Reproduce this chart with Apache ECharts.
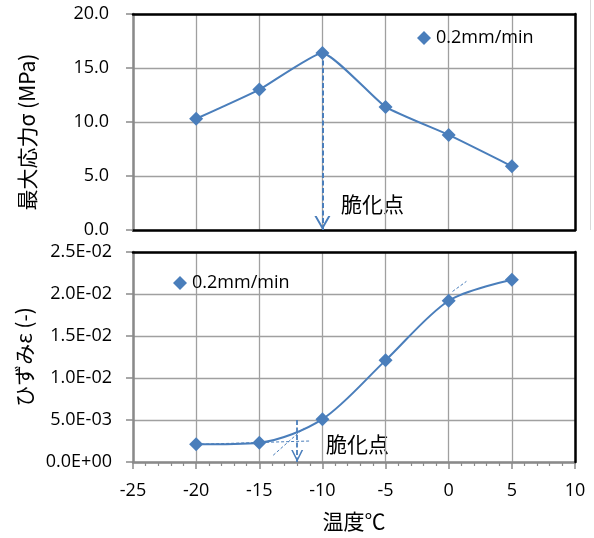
<!DOCTYPE html>
<html><head><meta charset="utf-8">
<script src="https://cdn.jsdelivr.net/npm/echarts@6/dist/echarts.min.js"></script>
<style>html,body{margin:0;padding:0;background:#fff}#c{width:594px;height:538px}</style>
</head><body><div id="c"></div>
<script>
// ---- data ----
const temperatures = [-20, -15, -10, -5, 0, 5];
const maxStress = [10.3, 13.0, 16.4, 11.4, 8.8, 5.9];
const strain = [0.0021, 0.0023, 0.0051, 0.0121, 0.0192, 0.0217];
const seriesName = '0.2mm/min';
const xRange = [-25, 10, 5];
const stressRange = [0, 20, 5];
const strainRange = [0, 0.025, 0.005];
const brittleLabel = '脆化点';
const xName = '温度℃';
const stressName = '最大応力σ (MPa)';
const strainName = 'ひずみε (-)';
// annotation lines (data coordinates)
const stressArrow = [[-10, 16.4], [-10, 0]];
const strainArrow = [[-12, 0.005], [-12, 0]];
const strainTangentLow = [[-20, 0.0021], [-11, 0.0025]];
const strainTangentSteep = [[-13.9, 0.0008], [-11.5, 0.0040]];
const strainTangentHigh = [[0.3, 0.0203], [1.4, 0.0215]];

const BLUE = '#4a7ebb';
const GRID = '#a0a0a0';
const AXIS = '#8a8a8a';
const NUMFONT = 'Open Sans';
const JPFONT = 'Noto Sans CJK JP';
const chevron = 'path://M0,100 L50,0 L100,100 L86,100 L50,28 L14,100 Z M50,-100 L50.1,-100 L50,-99.9 Z';

function expFmt(v) {
  if (Math.abs(v) < 1e-12) return '0.0E+00';
  let e = Math.floor(Math.log10(v) + 1e-9);
  let m = v / Math.pow(10, e);
  let s = e < 0 ? '-' : '+';
  let a = Math.abs(e);
  return m.toFixed(1) + 'E' + s + (a < 10 ? '0' : '') + a;
}
function seg(p, style, sym) {
  return {
    silent: true, animation: false, z: 15,
    symbol: sym ? ['none', chevron] : ['none', 'none'],
    symbolSize: sym ? [sym[0], sym[1]] : 0,
    label: { show: false },
    lineStyle: style,
    emphasis: { disabled: true },
    data: [[{ coord: p[0] }, { coord: p[1] }]]
  };
}
const pairs = (ys) => temperatures.map((t, i) => [t, ys[i]]);
function borderX(g, r) {
  return { gridIndex: g, type: 'value', position: 'top', min: r[0], max: r[1], interval: r[2], z: 10,
    axisLine: { show: true, onZero: false, lineStyle: { color: '#000', width: 2.5 } },
    axisTick: { show: false }, axisLabel: { show: false }, splitLine: { show: false } };
}
function borderY(g, r) {
  return { gridIndex: g, type: 'value', position: 'right', min: r[0], max: r[1], interval: r[2], z: 10,
    axisLine: { show: true, onZero: false, lineStyle: { color: '#000', width: 2.5 } },
    axisTick: { show: false }, axisLabel: { show: false }, splitLine: { show: false } };
}

const chart = echarts.init(document.getElementById('c'), null, { renderer: 'canvas' });
const labelStyle = { fontFamily: NUMFONT, fontSize: 18, color: '#000' };
chart.setOption({
  animation: false,
  backgroundColor: '#fff',
  grid: [
    { left: 133, top: 14, width: 442, height: 216 },
    { left: 133, top: 252, width: 442, height: 210 }
  ],
  legend: [
    { data: [seriesName], left: 412, top: 24, icon: 'diamond', itemWidth: 14, itemHeight: 14, itemGap: 4,
      textStyle: { fontFamily: NUMFONT, fontSize: 18, color: '#000' }, selectedMode: false },
    { data: [seriesName], left: 168, top: 269, icon: 'diamond', itemWidth: 14, itemHeight: 14, itemGap: 4,
      textStyle: { fontFamily: NUMFONT, fontSize: 18, color: '#000' }, selectedMode: false }
  ],
  xAxis: [
    { gridIndex: 0, type: 'value', min: xRange[0], max: xRange[1], interval: xRange[2],
      axisLine: { show: true, onZero: false, lineStyle: { color: '#000', width: 2.5 } },
      axisTick: { show: false }, axisLabel: { show: false },
      splitLine: { show: true, lineStyle: { color: GRID, width: 1.3 } } },
    { gridIndex: 1, type: 'value', min: xRange[0], max: xRange[1], interval: xRange[2],
      name: xName, nameLocation: 'middle', nameGap: 49,
      nameTextStyle: { fontFamily: JPFONT, fontSize: 21, color: '#000' },
      axisLine: { show: true, onZero: false, lineStyle: { color: AXIS, width: 2.5 } },
      axisTick: { show: true, length: 7, lineStyle: { color: AXIS, width: 1.5 } },
      minorTick: { show: true, splitNumber: 5, length: 4, lineStyle: { color: AXIS, width: 1.2 } },
      axisLabel: Object.assign({ margin: 20 }, labelStyle),
      splitLine: { show: true, lineStyle: { color: GRID, width: 1.3 } } },
    borderX(0, xRange),
    borderX(1, xRange)
  ],
  yAxis: [
    { gridIndex: 0, type: 'value', min: stressRange[0], max: stressRange[1], interval: stressRange[2],
      name: stressName, nameLocation: 'middle', nameRotate: 90, nameGap: 95,
      nameTextStyle: { fontFamily: JPFONT, fontSize: 21, color: '#000', padding: [0, 20, 0, 0] },
      axisLine: { show: true, onZero: false, lineStyle: { color: AXIS, width: 2.5 } },
      axisTick: { show: true, length: 7, lineStyle: { color: AXIS, width: 1.5 } },
      axisLabel: Object.assign({ margin: 24, formatter: (v) => v.toFixed(1) }, labelStyle),
      splitLine: { show: true, lineStyle: { color: GRID, width: 1.3 } } },
    { gridIndex: 1, type: 'value', min: strainRange[0], max: strainRange[1], interval: strainRange[2],
      name: strainName, nameLocation: 'middle', nameRotate: 90, nameGap: 95,
      nameTextStyle: { fontFamily: JPFONT, fontSize: 21, color: '#000' },
      axisLine: { show: true, onZero: false, lineStyle: { color: AXIS, width: 2.5 } },
      axisTick: { show: true, length: 7, lineStyle: { color: AXIS, width: 1.5 } },
      axisLabel: Object.assign({ margin: 21, formatter: expFmt }, labelStyle),
      splitLine: { show: true, lineStyle: { color: GRID, width: 1.3 } } },
    borderY(0, stressRange),
    borderY(1, strainRange)
  ],
  series: [
    { name: seriesName, type: 'line', xAxisIndex: 0, yAxisIndex: 0, data: pairs(maxStress), z: 12,
      smooth: 0.15, symbol: 'diamond', symbolSize: 14, color: BLUE,
      lineStyle: { color: BLUE, width: 2 }, itemStyle: { color: BLUE },
      markLine: seg(stressArrow, { color: BLUE, width: 2, type: [5, 2.5] }, [16, 28]) },
    { name: seriesName, type: 'line', xAxisIndex: 1, yAxisIndex: 1, data: pairs(strain), z: 12,
      smooth: 0.3, symbol: 'diamond', symbolSize: 14, color: BLUE,
      lineStyle: { color: BLUE, width: 2 }, itemStyle: { color: BLUE } },
    { type: 'line', xAxisIndex: 1, yAxisIndex: 1, data: [], silent: true, z: 12,
      markLine: seg(strainArrow, { color: BLUE, width: 1.8, type: [5, 2.5] }, [12, 24]) },
    { type: 'line', xAxisIndex: 1, yAxisIndex: 1, data: [], silent: true, z: 12,
      markLine: seg(strainTangentLow, { color: BLUE, width: 1, type: [3, 2] }) },
    { type: 'line', xAxisIndex: 1, yAxisIndex: 1, data: [], silent: true, z: 12,
      markLine: seg(strainTangentSteep, { color: BLUE, width: 1, type: [3, 2] }) },
    { type: 'line', xAxisIndex: 1, yAxisIndex: 1, data: [], silent: true, z: 12,
      markLine: seg(strainTangentHigh, { color: BLUE, width: 1, type: [3, 2] }) }
  ],
  graphic: [
    { type: 'text', left: 341, top: 194, style: { text: brittleLabel, font: '21px "Noto Sans CJK JP"', fill: '#000' } },
    { type: 'text', left: 326, top: 434, style: { text: brittleLabel, font: '21px "Noto Sans CJK JP"', fill: '#000' } },
    { type: 'line', shape: { x1: 590.5, y1: 0, x2: 590.5, y2: 230 }, style: { stroke: '#d9d9d9', lineWidth: 1 } }
  ]
});
</script></body></html>
